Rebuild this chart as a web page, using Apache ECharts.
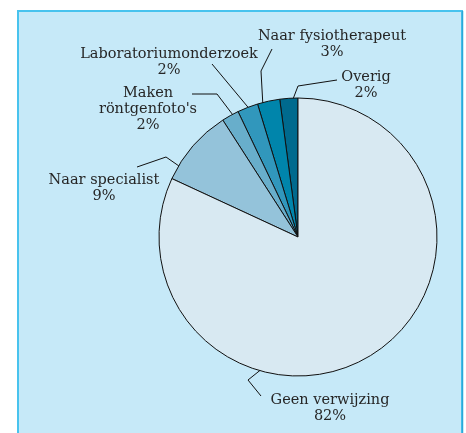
<!DOCTYPE html>
<html>
<head>
<meta charset="utf-8">
<script src="https://cdn.jsdelivr.net/npm/echarts@6/dist/echarts.min.js"></script>
<style>
    html, body { margin: 0; padding: 0; background: #ffffff; }
    #chart { width: 466px; height: 433px; }
</style>
</head>
<body>
<div id="chart"></div>
<script>
// slices, counterclockwise from 12 o'clock
const categories = ["Overig", "Naar fysiotherapeut", "Laboratoriumonderzoek", "Maken\nröntgenfoto's", "Naar specialist", "Geen verwijzing"]
const shares = [2.1, 2.6, 2.4, 2.0, 9.0, 81.9]
const colors = ["#006a8e", "#0085ab", "#3197bc", "#68aecb", "#94c3da", "#d8e9f2"]

// label placement: [centerX, centerY], leader line [label end, elbow, inside slice]
const labelSpots = [
    { at: [366, 85], line: [[337, 80], [298, 86], [290, 107]] },
    { at: [332, 44], line: [[272, 49], [261, 71], [263, 107]] },
    { at: [169, 62], line: [[212, 64], [232, 88], [252, 112]] },
    { at: [148, 109], line: [[192, 94], [217, 94], [239, 123]] },
    { at: [104, 188], line: [[137, 167], [166, 157], [189, 173]] },
    { at: [330, 408], line: [[261, 396], [248, 380], [273, 360]] },
]

const chart = echarts.init(document.getElementById("chart"))

const option = {
    animation: false,
    graphic: [
        {
            type: "rect",
            shape: { x: 18, y: 11, width: 444, height: 440 },
            style: { fill: "#c6e9f8", stroke: "#48c3ee", lineWidth: 2 },
            z: -10,
        },
        {
            type: "line",
            shape: { x1: 462.5, y1: 11, x2: 462.5, y2: 433 },
            style: { stroke: "#2aa8d8", lineWidth: 1.5 },
            z: -9,
        },
    ],
    series: [{
        type: "pie",
        center: [298, 237],
        radius: 139,
        startAngle: 90,
        clockwise: false,
        avoidLabelOverlap: false,
        itemStyle: { borderColor: "#111", borderWidth: 1 },
        label: {
            show: true,
            position: "outside",
            fontFamily: "DejaVu Serif",
            fontSize: 14.5,
            lineHeight: 16,
            color: "#262626",
            align: "center",
            formatter: (p) => `${p.name}\n${Math.round(p.percent)}%`,
        },
        labelLine: {
            show: true,
            lineStyle: { color: "#111", width: 1 },
        },
        labelLayout: (params) => {
            const spot = labelSpots[params.dataIndex]
            return {
                x: spot.at[0],
                y: spot.at[1],
                align: "center",
                verticalAlign: "middle",
                labelLinePoints: spot.line,
            }
        },
        emphasis: { disabled: true },
        data: categories.map((name, i) => ({
            name: name,
            value: shares[i],
            itemStyle: { color: colors[i] },
        })),
    }],
}

chart.setOption(option)
</script>
</body>
</html>
